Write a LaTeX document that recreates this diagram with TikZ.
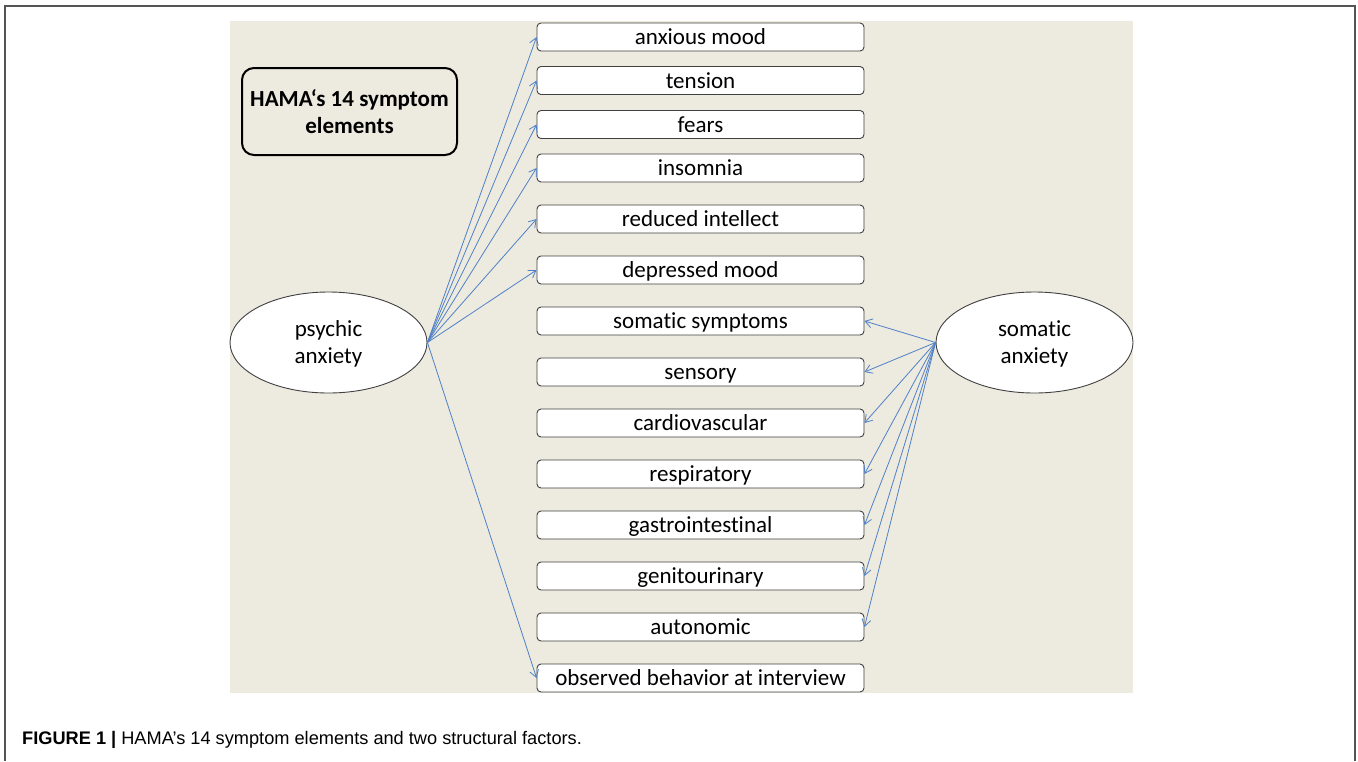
\documentclass[tikz,border=0pt]{standalone}
\usepackage{fontspec}
\setmainfont{Carlito}[Ligatures={TeX,NoCommon}]
\newfontfamily\capfont{Liberation Sans}
\usetikzlibrary{shapes.geometric,arrows.meta}
\definecolor{bgbeige}{HTML}{EDEAE0}
\definecolor{arrblue}{HTML}{4F81C6}
\definecolor{edgegray}{HTML}{404040}
\definecolor{framegray}{HTML}{555555}
\begin{document}
\begin{tikzpicture}[x=1pt,y=-1pt,
  sym/.style={draw=edgegray,line width=0.9pt,fill=white,rounded corners=4pt,
    minimum width=327pt,minimum height=28pt,inner sep=0pt,text height=17pt,text depth=2pt,
    font=\fontsize{23}{27}\selectfont},
  factor/.style={ellipse,draw=edgegray,line width=0.9pt,fill=white,
    minimum width=197pt,minimum height=101pt,inner sep=0pt,align=center,text depth=0pt,
    font=\fontsize{23}{27}\selectfont},
  arr/.style={draw=arrblue,line width=0.8pt,-{Straight Barb[length=7pt,width=9pt]}}]
\useasboundingbox (0,0) rectangle (1358,761);
\fill[white] (0,0) rectangle (1358,761);
\draw[framegray,line width=1.5pt] (5,761) -- (5,6) -- (1355,6) -- (1355,761);
\fill[bgbeige] (230,21) rectangle (1133,693);

\node[draw=black,line width=2pt,rounded corners=12pt,minimum width=215pt,minimum height=87pt,
  inner sep=0pt,align=center,font=\bfseries\fontsize{23}{27}\selectfont] (title) at (349.5,111.5)
  {HAMA‘s 14 symptom\\elements};

\node[sym] (b1) at (700.5,37) {anxious mood};
\node[sym] (b2) at (700.5,80.5) {tension};
\node[sym] (b3) at (700.5,124.5) {fears};
\node[sym] (b4) at (700.5,168) {insomnia};
\node[sym] (b5) at (700.5,219) {reduced intellect};
\node[sym] (b6) at (700.5,270) {depressed mood};
\node[sym] (b7) at (700.5,321) {somatic symptoms};
\node[sym] (b8) at (700.5,372) {sensory};
\node[sym] (b9) at (700.5,423) {cardiovascular};
\node[sym] (b10) at (700.5,474) {respiratory};
\node[sym] (b11) at (700.5,525) {gastrointestinal};
\node[sym] (b12) at (700.5,576) {genitourinary};
\node[sym] (b13) at (700.5,627) {autonomic};
\node[sym] (b14) at (700.5,678) {observed behavior at interview};

\node[factor] (psy) at (328.5,342.5) {psychic\\anxiety};
\node[factor] (som) at (1034.5,342.5) {somatic\\anxiety};

\foreach \i in {1,...,6,14} \draw[arr] (psy.east) -- (b\i.west);
\foreach \i in {7,...,13} \draw[arr] (som.west) -- (b\i.east);

\node[anchor=west,inner sep=0pt,font=\capfont\fontsize{18.2}{21}\selectfont] (cap) at (22,740)
  {\textbf{FIGURE 1 |} HAMA’s 14 symptom elements and two structural factors.};
\end{tikzpicture}
\end{document}
